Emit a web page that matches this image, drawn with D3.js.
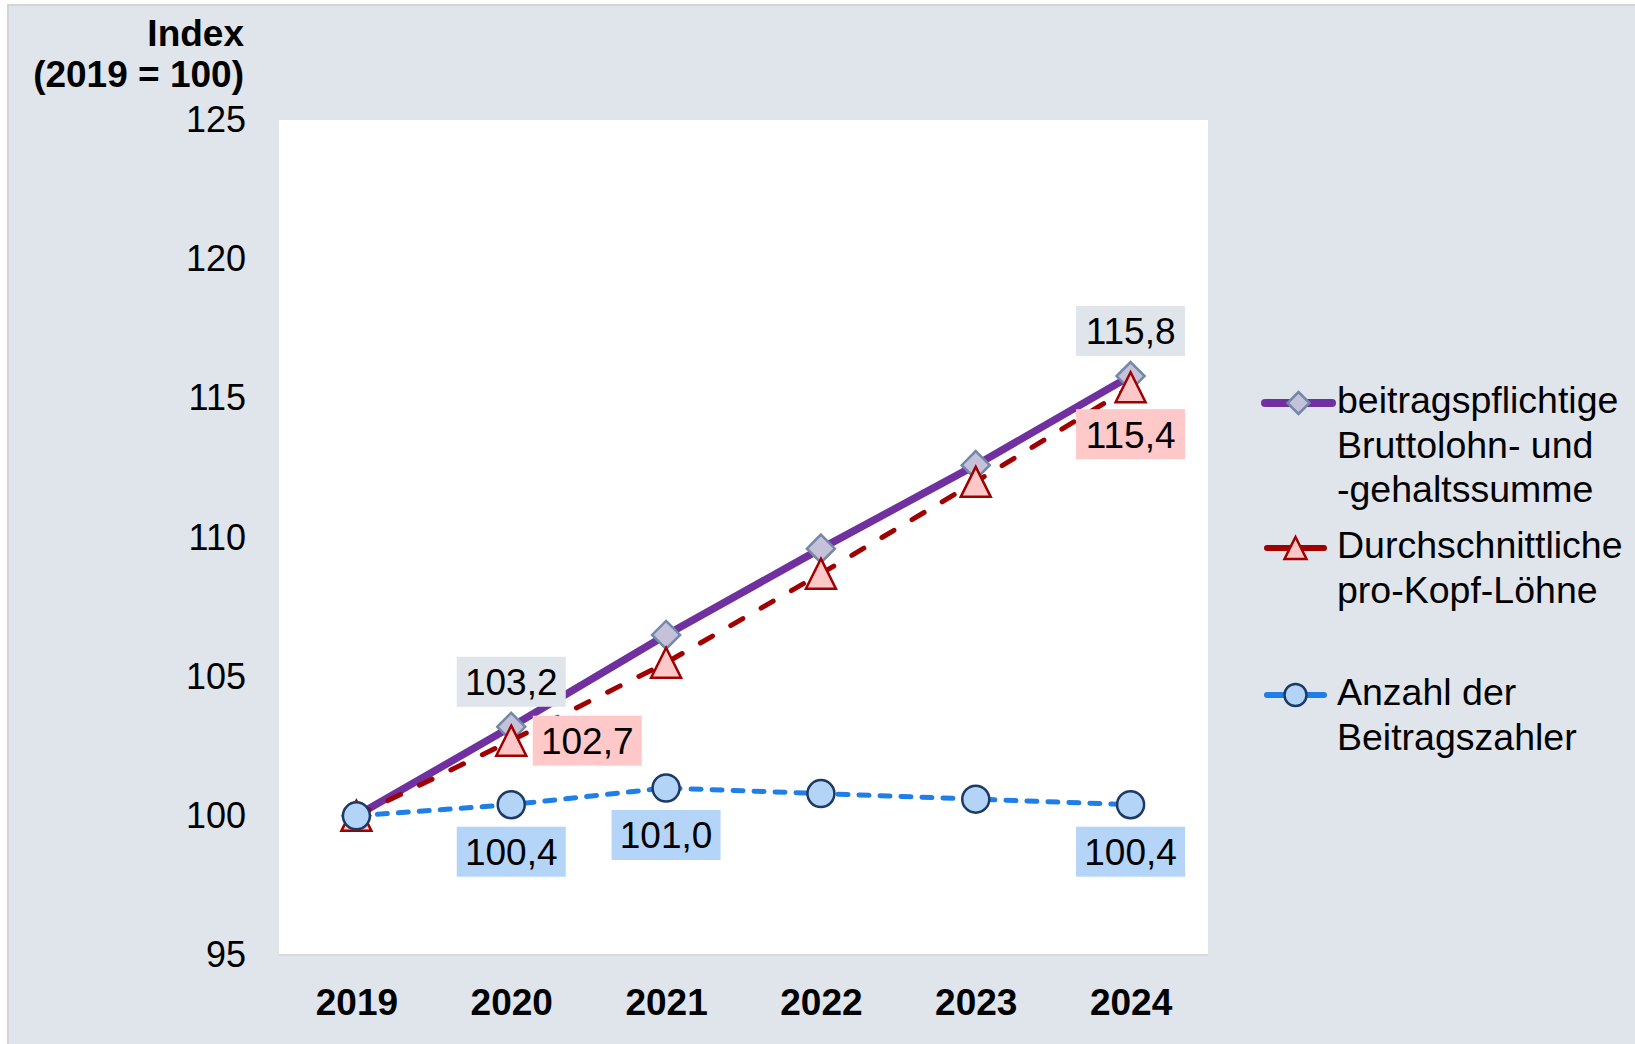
<!DOCTYPE html>
<html>
<head>
<meta charset="utf-8">
<script src="https://cdn.jsdelivr.net/npm/d3@7"></script>
<style>
  body { margin: 0; background: #fff; }
  svg { display: block; font-family: "Liberation Sans", Arial, sans-serif; }
  .axis text { fill: #000; }
</style>
</head>
<body>
<svg id="chart"></svg>
<script>
// Data
const years = [2019, 2020, 2021, 2022, 2023, 2024];
const bruttolohnsumme = [100, 103.2, 106.5, 109.6, 112.6, 115.8];
const proKopfLoehne = [100, 102.7, 105.5, 108.7, 112.0, 115.4];
const beitragszahler = [100, 100.4, 101.0, 100.8, 100.6, 100.4];
const yTicks = [95, 100, 105, 110, 115, 120, 125];

const legendLabels = {
  lohn: ['beitragspflichtige', 'Bruttolohn- und', '-gehaltssumme'],
  kopf: ['Durchschnittliche', 'pro-Kopf-Löhne'],
  zahl: ['Anzahl der', 'Beitragszahler']
};

// which points carry a value label
const pointLabels = [
  {series: 'lohn', year: 2020, place: 'above'},
  {series: 'lohn', year: 2024, place: 'above'},
  {series: 'kopf', year: 2020, place: 'right'},
  {series: 'kopf', year: 2024, place: 'below'},
  {series: 'zahl', year: 2020, place: 'below'},
  {series: 'zahl', year: 2021, place: 'below'},
  {series: 'zahl', year: 2024, place: 'below'}
];

const W = 1635, H = 1044;
const plot = {left: 279, right: 1208, top: 120, bottom: 955};
const bg = '#e0e4eb';

const series = {
  lohn: {values: bruttolohnsumme, color: '#7030a0', width: 7.5, dash: null,
         marker: 'diamond', fill: '#c5c1d9', stroke: '#7189a9', labelBg: '#e0e4eb'},
  kopf: {values: proKopfLoehne, color: '#a00000', width: 5, dash: '14 21',
         marker: 'triangle', fill: '#ffc8c8', stroke: '#a00000', labelBg: '#ffc9c9'},
  zahl: {values: beitragszahler, color: '#1f7fe6', width: 5, dash: '10 11',
         marker: 'circle', fill: '#b4d4f7', stroke: '#1c3a66', labelBg: '#b4d5f8'}
};

const svg = d3.select('#chart')
    .attr('width', W)
    .attr('height', H);

// background panel with thin border
svg.append('rect')
    .attr('x', 8).attr('y', 5)
    .attr('width', W).attr('height', H)
    .attr('fill', bg)
    .attr('stroke', '#d4d4d4')
    .attr('stroke-width', 2);

svg.append('rect')
    .attr('x', plot.left).attr('y', plot.top)
    .attr('width', plot.right - plot.left)
    .attr('height', plot.bottom - plot.top)
    .attr('fill', '#fff');

svg.append('line')
    .attr('x1', plot.left).attr('x2', plot.right)
    .attr('y1', plot.bottom).attr('y2', plot.bottom)
    .attr('stroke', '#d9d9d9')
    .attr('stroke-width', 2);

const x = d3.scalePoint()
    .domain(years)
    .range([plot.left, plot.right])
    .padding(0.5);

const y = d3.scaleLinear()
    .domain([95, 125])
    .range([plot.bottom, plot.top]);

// axes
const yAxisG = svg.append('g')
    .attr('class', 'axis')
    .attr('transform', `translate(${plot.left},0)`)
    .call(d3.axisLeft(y).tickValues(yTicks).tickSize(0).tickPadding(33));
yAxisG.select('.domain').remove();
yAxisG.selectAll('text')
    .style('font-size', '36px');

const xAxisG = svg.append('g')
    .attr('class', 'axis')
    .attr('transform', `translate(0,${plot.bottom})`)
    .call(d3.axisBottom(x).tickSize(0).tickPadding(34));
xAxisG.select('.domain').remove();
xAxisG.selectAll('text')
    .style('font-size', '37px')
    .style('font-weight', 'bold');

// axis title
svg.append('text')
    .attr('x', 244).attr('y', 46)
    .attr('text-anchor', 'end')
    .style('font-size', '37px').style('font-weight', 'bold')
    .text('Index');
svg.append('text')
    .attr('x', 244).attr('y', 87)
    .attr('text-anchor', 'end')
    .style('font-size', '37px').style('font-weight', 'bold')
    .text('(2019 = 100)');

function drawMarker(g, type, cx, cy, s, conf) {
  let m;
  if (type === 'diamond') {
    m = g.append('path')
        .attr('d', `M${cx},${cy - s}L${cx + s},${cy}L${cx},${cy + s}L${cx - s},${cy}Z`);
  } else if (type === 'triangle') {
    m = g.append('path')
        .attr('d', `M${cx},${cy - s}L${cx + s},${cy + s}L${cx - s},${cy + s}Z`);
  } else {
    m = g.append('circle')
        .attr('cx', cx).attr('cy', cy).attr('r', s);
  }
  m.attr('fill', conf.fill)
      .attr('stroke', conf.stroke)
      .attr('stroke-width', 2.5)
      .attr('stroke-linejoin', 'miter');
}

const markerSize = {diamond: 14, triangle: 15, circle: 13.5};

const line = d3.line()
    .x((d, i) => x(years[i]))
    .y(d => y(d));

// series lines + markers, in drawing order
Object.keys(series).forEach(key => {
  const s = series[key];
  const g = svg.append('g').attr('class', 'series-' + key);
  g.append('path')
      .datum(s.values)
      .attr('fill', 'none')
      .attr('stroke', s.color)
      .attr('stroke-width', s.width)
      .attr('stroke-linecap', 'round')
      .attr('stroke-linejoin', 'round')
      .attr('stroke-dasharray', s.dash)
      .attr('d', line);
  s.values.forEach((v, i) => {
    drawMarker(g, s.marker, x(years[i]), y(v), markerSize[s.marker], s);
  });
});

// value labels
const fmt = v => d3.format('.1f')(v).replace('.', ',');
const boxW = 109, boxH = 50;
pointLabels.forEach(l => {
  const s = series[l.series];
  const i = years.indexOf(l.year);
  const v = s.values[i];
  let cx = x(l.year), cy = y(v);
  if (l.place === 'above') cy -= 45;
  else if (l.place === 'below') cy += 47;
  else if (l.place === 'right') cx += 76;
  svg.append('rect')
      .attr('x', cx - boxW / 2).attr('y', cy - boxH / 2)
      .attr('width', boxW).attr('height', boxH)
      .attr('fill', s.labelBg);
  svg.append('text')
      .attr('x', cx).attr('y', cy)
      .attr('dy', '0.36em')
      .attr('text-anchor', 'middle')
      .style('font-size', '37px')
      .text(fmt(v));
});

// legend
const legendRows = [
  {key: 'lohn', y: 403, x1: 1265, x2: 1332, lw: 8, ms: 11},
  {key: 'kopf', y: 548, x1: 1267, x2: 1324, lw: 6, ms: 11},
  {key: 'zahl', y: 695, x1: 1267, x2: 1324, lw: 6, ms: 11}
];
const legend = svg.append('g').attr('class', 'legend');
legendRows.forEach(r => {
  const s = series[r.key];
  legend.append('line')
      .attr('x1', r.x1).attr('x2', r.x2)
      .attr('y1', r.y).attr('y2', r.y)
      .attr('stroke', s.color)
      .attr('stroke-width', r.lw)
      .attr('stroke-linecap', 'round');
  drawMarker(legend, s.marker, (r.x1 + r.x2) / 2, r.y, r.ms, s);
  legendLabels[r.key].forEach((t, j) => {
    legend.append('text')
        .attr('x', 1337)
        .attr('y', r.y + 10 + j * 44.5)
        .style('font-size', '37.5px')
        .text(t);
  });
});
</script>
</body>
</html>
